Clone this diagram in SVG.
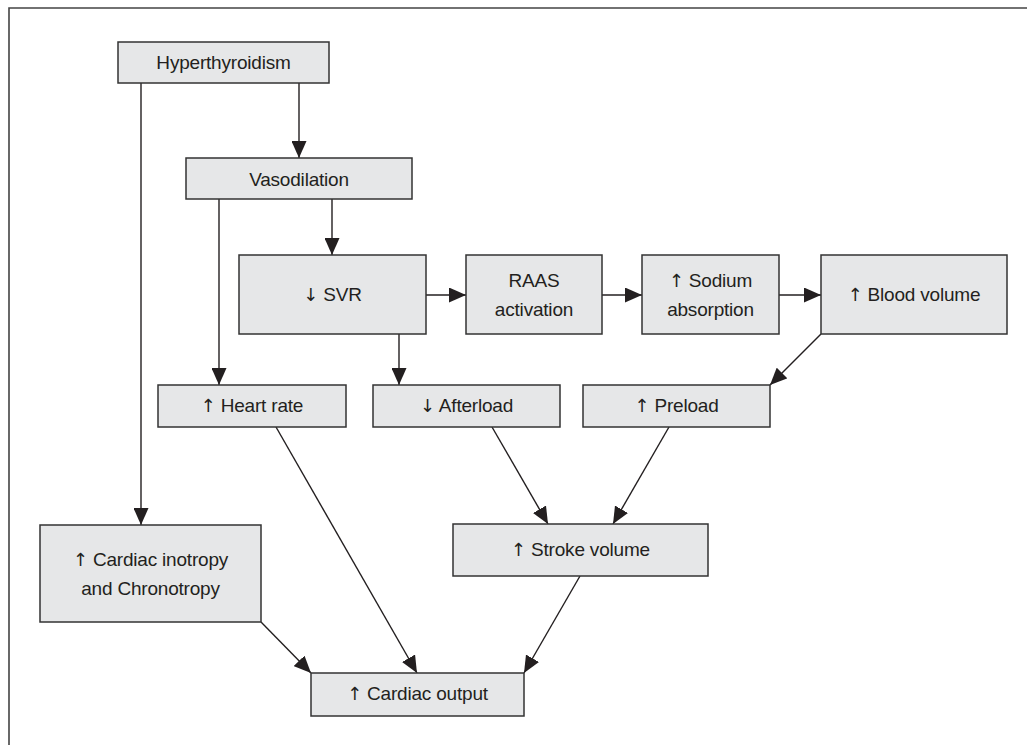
<svg xmlns="http://www.w3.org/2000/svg" width="1027" height="745" viewBox="0 0 1027 745">
<style>
.box{fill:#e6e7e8;stroke:#333;stroke-width:1.5}
.t{font-family:"Liberation Sans",Arial,sans-serif;font-size:19px;fill:#231f20;text-anchor:middle;letter-spacing:-0.2px}
.a{font-family:"DejaVu Sans",sans-serif;font-size:18px}
.c{stroke:#231f20;stroke-width:1.4;fill:none;marker-end:url(#ah)}
</style>
<defs>
<marker id="ah" markerWidth="17" markerHeight="15" refX="17" refY="7.5" orient="auto" markerUnits="userSpaceOnUse">
<path d="M0,0 L17,7.5 L0,15 Z" fill="#231f20"/>
</marker>
</defs>
<rect width="1027" height="745" fill="#fff"/>
<path d="M9,745 V8 H1027" fill="none" stroke="#444" stroke-width="1.6"/>
<g id="connectors">
<path class="c" d="M299,83 V158"/>
<path class="c" d="M141,83 V525"/>
<path class="c" d="M219,199 V385"/>
<path class="c" d="M332,199 V255"/>
<path class="c" d="M426,295 H466"/>
<path class="c" d="M602,295 H642"/>
<path class="c" d="M779,295 H821"/>
<path class="c" d="M399,334 V385"/>
<path class="c" d="M821,334 L770,385"/>
<path class="c" d="M492,427 L548,524"/>
<path class="c" d="M669,427 L613,524"/>
<path class="c" d="M276,427 L417,673"/>
<path class="c" d="M261,622 L311,673"/>
<path class="c" d="M580,576 L524,673"/>
</g>
<g id="n-hyper"><rect class="box" x="118" y="42" width="211" height="41"/><text class="t" x="223.5" y="69">Hyperthyroidism</text></g>
<g id="n-vaso"><rect class="box" x="186" y="158" width="226" height="41"/><text class="t" x="299" y="186">Vasodilation</text></g>
<g id="n-svr"><rect class="box" x="239" y="255" width="187" height="79"/><text class="t" x="332.5" y="301"><tspan class="a">↓</tspan> SVR</text></g>
<g id="n-raas"><rect class="box" x="466" y="255" width="136" height="79"/><text class="t" x="534" y="287">RAAS</text><text class="t" x="534" y="316">activation</text></g>
<g id="n-sodium"><rect class="box" x="642" y="255" width="137" height="79"/><text class="t" x="710.5" y="287"><tspan class="a">↑</tspan> Sodium</text><text class="t" x="710.5" y="316">absorption</text></g>
<g id="n-blood"><rect class="box" x="821" y="255" width="186" height="79"/><text class="t" x="914" y="301"><tspan class="a">↑</tspan> Blood volume</text></g>
<g id="n-hr"><rect class="box" x="158" y="385" width="188" height="42"/><text class="t" x="252" y="412"><tspan class="a">↑</tspan> Heart rate</text></g>
<g id="n-after"><rect class="box" x="373" y="385" width="187" height="42"/><text class="t" x="466.5" y="412"><tspan class="a">↓</tspan> Afterload</text></g>
<g id="n-pre"><rect class="box" x="583" y="385" width="187" height="42"/><text class="t" x="676.5" y="412"><tspan class="a">↑</tspan> Preload</text></g>
<g id="n-ino"><rect class="box" x="40" y="525" width="221" height="97"/><text class="t" x="150.5" y="566"><tspan class="a">↑</tspan> Cardiac inotropy</text><text class="t" x="150.5" y="595">and Chronotropy</text></g>
<g id="n-sv"><rect class="box" x="453" y="524" width="255" height="52"/><text class="t" x="580.5" y="556"><tspan class="a">↑</tspan> Stroke volume</text></g>
<g id="n-co"><rect class="box" x="311" y="673" width="213" height="43"/><text class="t" x="417.5" y="700"><tspan class="a">↑</tspan> Cardiac output</text></g>
</svg>
